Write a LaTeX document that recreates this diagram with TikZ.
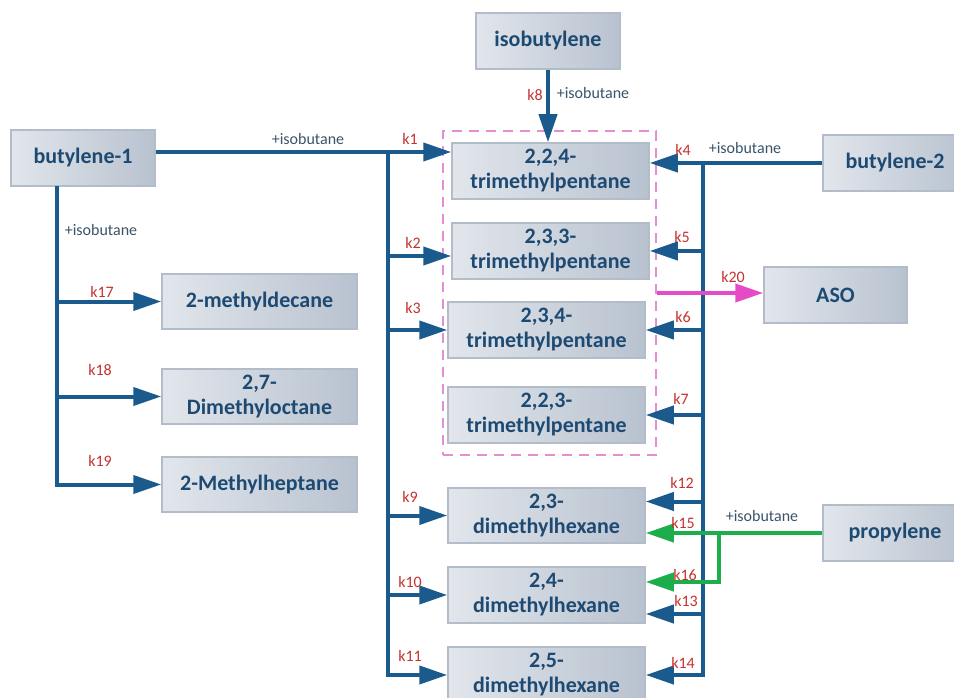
\documentclass[tikz,border=0pt]{standalone}
\usepackage{fontspec}
\setmainfont{Carlito}
\usetikzlibrary{arrows.meta}

\definecolor{flowblue}{HTML}{1B5A8C}
\definecolor{flowgreen}{HTML}{1DAE4B}
\definecolor{flowpink}{HTML}{E64BC6}
\definecolor{dashpink}{HTML}{E48ED6}
\definecolor{boxlight}{HTML}{E2E6EC}
\definecolor{boxdark}{HTML}{B8C2CF}
\definecolor{boxedge}{HTML}{B3BCC9}
\definecolor{boxtext}{HTML}{1D4A73}
\definecolor{kred}{HTML}{C3322E}
\definecolor{addgray}{HTML}{3A5368}

\tikzset{
  species/.style={rectangle, draw=boxedge, line width=1.5pt,
    left color=boxlight, right color=boxdark,
    minimum width=197pt, minimum height=56pt, inner sep=0pt,
    align=center, text=boxtext, font=\bfseries\fontsize{22}{25}\selectfont},
  feed/.style={species, minimum width=144pt},
  flow/.style={draw=flowblue, line width=4pt},
  bigtip/.style={-{Triangle[length=28pt,width=18pt]}},
  klabel/.style={text=kred, font=\fontsize{16}{18}\selectfont, inner sep=0pt},
  addlabel/.style={text=addgray, font=\fontsize{16}{18}\selectfont, inner sep=0pt},
}

\begin{document}
\begin{tikzpicture}[x=1pt,y=-1pt]
\clip (0,0) rectangle (954,698);

% group of trimethylpentanes
\node[draw=dashpink, line width=1.5pt, dash pattern=on 10pt off 7pt,
  minimum width=213pt, minimum height=324pt] (grp) at (549.5,293) {};

% feeds
\node[feed] (b1) at (83,158) {butylene-1};
\node[feed] (ib) at (548,41) {isobutylene};
\node[feed] (b2) at (895,163) {butylene-2};
\node[feed] (pr) at (895,533) {propylene};
\node[feed, minimum width=143pt] (aso) at (835.5,295) {ASO};

% products
\node[species] (tmp224) at (550.5,171) {2,2,4-\\trimethylpentane};
\node[species] (tmp233) at (550.5,251) {2,3,3-\\trimethylpentane};
\node[species] (tmp234) at (546.5,330) {2,3,4-\\trimethylpentane};
\node[species] (tmp223) at (546.5,415) {2,2,3-\\trimethylpentane};
\node[species, minimum height=55pt] (dmh23) at (546.5,515.5) {2,3-\\dimethylhexane};
\node[species] (dmh24) at (546.5,595) {2,4-\\dimethylhexane};
\node[species] (dmh25) at (546.5,675) {2,5-\\dimethylhexane};

\node[species, minimum width=195pt, minimum height=55pt] (md) at (259.5,301.5) {2-methyldecane};
\node[species, minimum width=195pt, minimum height=55pt] (dmo) at (259.5,396.5) {2,7-\\Dimethyloctane};
\node[species, minimum width=195pt, minimum height=55pt] (mh) at (259.5,484.5) {2-Methylheptane};

% junctions
\coordinate (jL) at (388,152);
\coordinate (jR) at (703,163);
\coordinate (jB) at (57,186);
\coordinate (jG) at (719,533);
\coordinate (jG2) at (719,582);

% butylene-1
\draw[flow] (b1.east |- jL) -- (jL);
\draw[flow,bigtip] (jL) -- (jL -| tmp224.west);
\draw[flow,bigtip] (jL) |- (dmh25.west);
\draw[flow,bigtip] (jL |- 0,256) -- (tmp233.west |- 0,256);
\draw[flow,bigtip] (jL |- tmp234.west) -- (tmp234.west);
\draw[flow,bigtip] (jL |- dmh23.west) -- (dmh23.west);
\draw[flow,bigtip] (jL |- dmh24.west) -- (dmh24.west);

\draw[flow,bigtip] (jB) |- (mh.west);
\draw[flow,bigtip] (jB |- md.west) -- (md.west);
\draw[flow,bigtip] (jB |- dmo.west) -- (dmo.west);

% isobutylene
\draw[flow,bigtip] (ib.south) -- (ib.south |- tmp224.north);

% butylene-2
\draw[flow,bigtip] (b2.west) -- (b2.west -| tmp224.east);
\draw[flow,bigtip] (jR) |- (dmh25.east);
\draw[flow,bigtip] (jR |- tmp233.east) -- (tmp233.east);
\draw[flow,bigtip] (jR |- tmp234.east) -- (tmp234.east);
\draw[flow,bigtip] (jR |- tmp223.east) -- (tmp223.east);
\draw[flow,bigtip] ([yshift=14pt]jR |- dmh23.east) -- ([yshift=14pt]dmh23.east);
\draw[flow,bigtip] ([yshift=-19pt]jR |- dmh24.east) -- ([yshift=-19pt]dmh24.east);

% propylene
\draw[draw=flowgreen, line width=4pt, bigtip] (pr.west) -- (pr.west -| dmh23.east);
\draw[draw=flowgreen, line width=4pt, bigtip] (jG) -- (jG2) -- (jG2 -| dmh24.east);

% ASO
\draw[draw=flowpink, line width=4pt, bigtip] (grp.east) -- (grp.east -| aso.west);

% rate constants
\foreach \name/\x/\y in {k1/410/139, k2/413/243, k3/413/308, k4/683/150,
  k5/682/237, k6/683/317, k7/681/399, k8/535/95, k9/410/497, k10/410/582,
  k11/410/656, k12/682/483, k13/686/601, k14/683/663, k15/683/523,
  k16/685/575, k17/102/292, k18/100/370, k19/100/461, k20/733/277}
  \node[klabel] (\name) at (\x,\y) {\name};

\node[addlabel] (add1) at (308,139) {+isobutane};
\node[addlabel] (add2) at (593,93) {+isobutane};
\node[addlabel] (add3) at (745,148) {+isobutane};
\node[addlabel] (add4) at (101,230) {+isobutane};
\node[addlabel] (add5) at (762,516) {+isobutane};

\end{tikzpicture}
\end{document}
